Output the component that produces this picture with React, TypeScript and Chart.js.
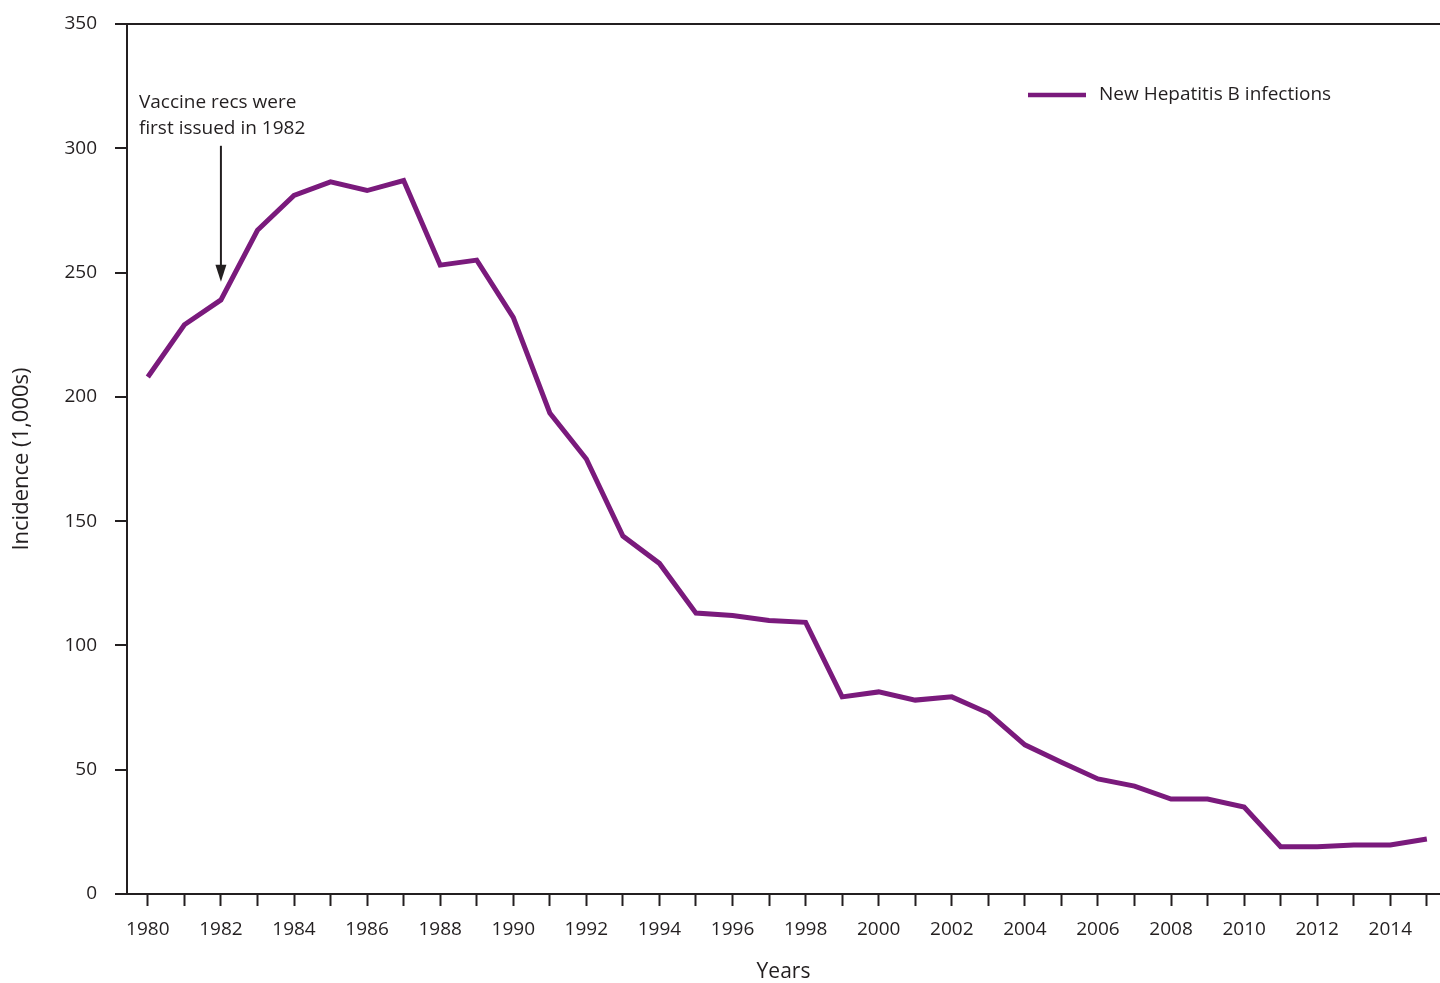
import React, { useEffect, useRef } from 'react';
import { Chart, registerables } from 'chart.js';

Chart.register(...registerables);

const years = [
  1980, 1981, 1982, 1983, 1984, 1985, 1986, 1987, 1988, 1989,
  1990, 1991, 1992, 1993, 1994, 1995, 1996, 1997, 1998, 1999,
  2000, 2001, 2002, 2003, 2004, 2005, 2006, 2007, 2008, 2009,
  2010, 2011, 2012, 2013, 2014, 2015,
];
const incidence = [
  208, 229, 239, 267, 281, 286.5, 283, 287, 253, 255,
  232, 193.5, 175, 144, 133, 113, 112, 110, 109.3, 79.3,
  81.3, 78, 79.3, 72.8, 60, 53, 46.3, 43.4, 38.2, 38.2,
  35, 19, 19, 19.7, 19.7, 22.1,
];
const yTicks = [0, 50, 100, 150, 200, 250, 300, 350];
const seriesLabel = 'New Hepatitis B infections';
const yTitle = 'Incidence (1,000s)';
const xTitle = 'Years';
const annotationLines = ['Vaccine recs were', 'first issued in 1982'];
const annotationYear = 1982;

const INK = '#231f20';
const PURPLE = '#7a1a7c';
const FONT = "'Open Sans', sans-serif";

const annotationPlugin = {
  id: 'customDecor',
  afterDraw(chart: any) {
    const ctx = chart.ctx;
    const xs = chart.scales.x;
    const ys = chart.scales.y;
    ctx.save();
    // annotation arrow
    const ax = xs.getPixelForValue(annotationYear);
    const startY = ys.getPixelForValue(301);
    const tipY = ys.getPixelForValue(246.3);
    ctx.strokeStyle = INK;
    ctx.fillStyle = INK;
    ctx.lineWidth = 2;
    ctx.beginPath();
    ctx.moveTo(ax, startY);
    ctx.lineTo(ax, tipY - 14);
    ctx.stroke();
    ctx.beginPath();
    ctx.moveTo(ax - 5.5, tipY - 17);
    ctx.lineTo(ax + 5.5, tipY - 17);
    ctx.lineTo(ax, tipY);
    ctx.closePath();
    ctx.fill();
    // annotation text
    ctx.font = `19px ${FONT}`;
    ctx.textAlign = 'left';
    ctx.textBaseline = 'middle';
    ctx.fillText(annotationLines[0], ax - 82, startY - 43);
    ctx.fillText(annotationLines[1], ax - 82, startY - 17);
    // legend
    const ly = 95;
    ctx.strokeStyle = PURPLE;
    ctx.lineWidth = 4.5;
    ctx.beginPath();
    ctx.moveTo(1028, ly);
    ctx.lineTo(1086, ly);
    ctx.stroke();
    ctx.fillStyle = INK;
    ctx.fillText(seriesLabel, 1099, ly);
    ctx.restore();
  },
};

export default function App() {
  const canvasRef = useRef<HTMLCanvasElement | null>(null);

  useEffect(() => {
    document.body.style.margin = '0';
    const canvas = canvasRef.current;
    if (!canvas) return;
    const chart = new Chart(canvas, {
      type: 'line',
      data: {
        datasets: [
          {
            label: seriesLabel,
            data: years.map((y, i) => ({ x: y, y: incidence[i] })),
            borderColor: PURPLE,
            backgroundColor: PURPLE,
            borderWidth: 5,
            pointRadius: 0,
            tension: 0,
            borderJoinStyle: 'miter',
          },
        ],
      },
      options: {
        animation: false,
        responsive: true,
        maintainAspectRatio: false,
        layout: { padding: { top: 24, right: 0, bottom: 0, left: 0 } },
        plugins: {
          legend: { display: false },
          tooltip: { enabled: false },
        },
        scales: {
          x: {
            type: 'linear',
            min: 1979.43,
            max: 2015.36,
            afterBuildTicks: (scale: any) => {
              scale.ticks = years.map((v) => ({ value: v }));
            },
            afterFit: (scale: any) => {
              scale.height = 89;
              scale.paddingLeft = 0;
              scale.paddingRight = 0;
            },
            ticks: {
              autoSkip: false,
              maxRotation: 0,
              minRotation: 0,
              padding: 12,
              color: INK,
              font: { family: FONT, size: 19 },
              callback: (v: any) => (Number(v) % 2 === 0 ? String(v) : ''),
            },
            grid: {
              drawOnChartArea: false,
              drawTicks: true,
              tickLength: 12,
              tickWidth: 2,
              tickColor: INK,
            },
            border: { display: true, color: INK, width: 2 },
            title: {
              display: true,
              text: xTitle,
              color: INK,
              font: { family: FONT, size: 21 },
              padding: { top: 0, bottom: -2 },
            },
          },
          y: {
            type: 'linear',
            min: 0,
            max: 350,
            afterBuildTicks: (scale: any) => {
              scale.ticks = yTicks.map((v) => ({ value: v }));
            },
            afterFit: (scale: any) => {
              scale.width = 127;
              scale.paddingTop = 0;
              scale.paddingBottom = 0;
            },
            ticks: {
              padding: 18,
              color: INK,
              font: { family: FONT, size: 19 },
              callback: (v: any) => String(v),
            },
            grid: {
              drawOnChartArea: true,
              color: (c: any) => (c.tick && c.tick.value === 350 ? INK : 'rgba(0,0,0,0)'),
              lineWidth: 2,
              drawTicks: true,
              tickLength: 12,
              tickWidth: 2,
              tickColor: INK,
            },
            border: { display: true, color: INK, width: 2 },
            title: {
              display: true,
              text: yTitle,
              color: INK,
              font: { family: FONT, size: 22 },
              padding: { top: 9, bottom: 9 },
            },
          },
        },
      },
      plugins: [annotationPlugin],
    } as any);
    return () => chart.destroy();
  }, []);

  return (
    <div style={{ position: 'relative', width: '1440px', height: '983px' }}>
      <canvas ref={canvasRef} />
    </div>
  );
}
